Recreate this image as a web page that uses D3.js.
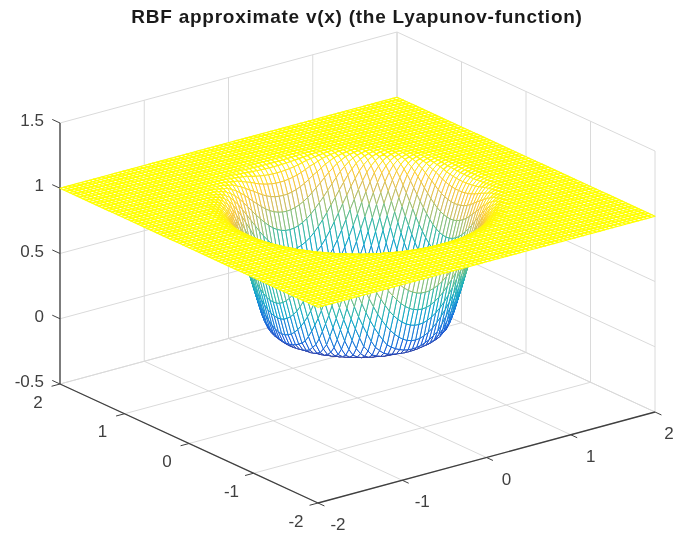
<!DOCTYPE html>
<html>
<head>
<meta charset="utf-8">
<script src="https://cdn.jsdelivr.net/npm/d3@7"></script>
<style>
    html, body { margin: 0; padding: 0; background: #fff; overflow: hidden; }
    svg { display: block; filter: blur(0.45px); }
    text { font-family: "Liberation Sans", Arial, sans-serif; }
</style>
</head>
<body>
<script>
    // Radial profile of v(x)
    const radii = [0, 0.2, 0.4, 0.5, 0.6, 0.7, 0.8, 0.85, 0.9, 0.95, 1.0, 1.05, 1.1, 1.15, 1.2, 1.25, 1.3, 1.35, 1.4, 1.5, 3];
    const heights = [0, 0.001, 0.003, 0.006, 0.01, 0.018, 0.038, 0.07, 0.15, 0.28, 0.41, 0.55, 0.68, 0.79, 0.88, 0.94, 0.975, 0.99, 0.998, 1, 1];

    const xTicks = [-2, -1, 0, 1, 2];
    const yTicks = [-2, -1, 0, 1, 2];
    const zTicks = [-0.5, 0, 0.5, 1, 1.5];
    const titleText = "RBF approximate v(x) (the Lyapunov-function)";

    // parula
    const parulaStops = ["#352a87", "#0f5cdd", "#1481d6", "#06a4ca", "#2eb7a4", "#87bf77", "#d1bb59", "#fec832", "#ffff00"];

    const meshCount = 81;
    const gridValues = d3.range(meshCount).map(i => -2 + 4 * i / (meshCount - 1));

    const width = 675;
    const height = 536;

    // Screen position of the front floor corner (x=-2, y=-2, z=-0.5)
    const originX = 318;
    const originY = 503;

    const xToLeft = d3.scaleLinear().domain([-2, 2]).range([0, 337]);
    const xToUp = d3.scaleLinear().domain([-2, 2]).range([0, -91]);
    const yToLeft = d3.scaleLinear().domain([-2, 2]).range([0, -258]);
    const yToUp = d3.scaleLinear().domain([-2, 2]).range([0, -119]);
    const zToUp = d3.scaleLinear().domain([-0.5, 1.5]).range([0, -261]);

    function project(x, y, z) {
        return [
            originX + xToLeft(x) + yToLeft(y),
            originY + xToUp(x) + yToUp(y) + zToUp(z)
        ];
    }

    const profile = d3.scaleLinear().domain(radii).range(heights).clamp(true);
    const colorScale = d3.scaleLinear()
        .domain(parulaStops.map((c, i) => i / (parulaStops.length - 1)))
        .range(parulaStops)
        .clamp(true);

    const surface = (x, y) => profile(Math.hypot(x, y));

    const svg = d3.select("body").append("svg")
        .attr("width", width)
        .attr("height", height);

    const line = d3.line();
    const gridColor = "#dadada";
    const axisColor = "#404040";
    const textColor = "#404040";

    function drawLine(parent, a, b, color, w) {
        parent.append("path")
            .attr("d", line([project(...a), project(...b)]))
            .attr("fill", "none")
            .attr("stroke", color)
            .attr("stroke-width", w);
    }

    // Grid on the floor and the two back walls
    const gridLayer = svg.append("g");
    xTicks.forEach(t => {
        drawLine(gridLayer, [t, -2, -0.5], [t, 2, -0.5], gridColor, 1);
        drawLine(gridLayer, [t, 2, -0.5], [t, 2, 1.5], gridColor, 1);
    });
    yTicks.forEach(t => {
        drawLine(gridLayer, [-2, t, -0.5], [2, t, -0.5], gridColor, 1);
        drawLine(gridLayer, [2, t, -0.5], [2, t, 1.5], gridColor, 1);
    });
    zTicks.forEach(t => {
        drawLine(gridLayer, [-2, 2, t], [2, 2, t], gridColor, 1);
        drawLine(gridLayer, [2, 2, t], [2, -2, t], gridColor, 1);
    });

    // Axes and tick marks
    const axisLayer = svg.append("g");
    drawLine(axisLayer, [-2, 2, -0.5], [-2, 2, 1.5], axisColor, 1.3);
    drawLine(axisLayer, [-2, -2, -0.5], [-2, 2, -0.5], axisColor, 1.3);
    drawLine(axisLayer, [-2, -2, -0.5], [2, -2, -0.5], axisColor, 1.3);
    xTicks.forEach(t => drawLine(axisLayer, [t, -2, -0.5], [t, -2.1, -0.5], axisColor, 1));
    yTicks.forEach(t => drawLine(axisLayer, [-2, t, -0.5], [-2.1, t, -0.5], axisColor, 1));
    zTicks.forEach(t => drawLine(axisLayer, [-2, 2, t], [-2, 2.12, t], axisColor, 1));

    // Mesh cells painted back to front, white faces hide what is behind them
    const cells = [];
    for (let i = meshCount - 2; i >= 0; i--) {
        for (let j = meshCount - 2; j >= 0; j--) {
            const x0 = gridValues[i], x1 = gridValues[i + 1];
            const y0 = gridValues[j], y1 = gridValues[j + 1];
            const corners = [[x0, y0], [x1, y0], [x1, y1], [x0, y1]]
                .map(c => [c[0], c[1], surface(c[0], c[1])]);
            cells.push({
                depth: x0 + y0,
                corners: corners,
                level: d3.mean(corners, c => c[2])
            });
        }
    }
    cells.sort((a, b) => b.depth - a.depth);

    // The flat sheet reads almost solid in the reference, the bowl lighter
    svg.append("g")
        .attr("stroke-linejoin", "round")
        .selectAll("path")
        .data(cells)
        .enter()
        .append("path")
        .attr("d", d => line(d.corners.map(c => project(...c))) + "Z")
        .attr("fill", "#fff")
        .attr("stroke", d => colorScale(d.level))
        .attr("stroke-width", d => d.level > 0.97 ? 1.25 : 0.95);

    // Tick labels
    const labels = svg.append("g")
        .attr("fill", textColor)
        .style("font-size", "17px");

    zTicks.forEach(t => {
        const p = project(-2, 2, t);
        labels.append("text")
            .attr("x", p[0] - 16)
            .attr("y", p[1] + 3)
            .attr("text-anchor", "end")
            .text(t);
    });
    yTicks.forEach(t => {
        const p = project(-2, t, -0.5);
        labels.append("text")
            .attr("x", p[0] - 22)
            .attr("y", p[1] + 23.5)
            .attr("text-anchor", "middle")
            .text(t);
    });
    xTicks.forEach(t => {
        const p = project(t, -2, -0.5);
        labels.append("text")
            .attr("x", Math.min(p[0] + 20, width - 6))
            .attr("y", p[1] + 27)
            .attr("text-anchor", "middle")
            .text(t);
    });

    // Title
    svg.append("text")
        .attr("x", 357)
        .attr("y", 23)
        .attr("text-anchor", "middle")
        .attr("fill", "#1a1a1a")
        .style("font-size", "19px")
        .style("font-weight", "bold")
        .style("letter-spacing", "0.75px")
        .text(titleText);
</script>
</body>
</html>
